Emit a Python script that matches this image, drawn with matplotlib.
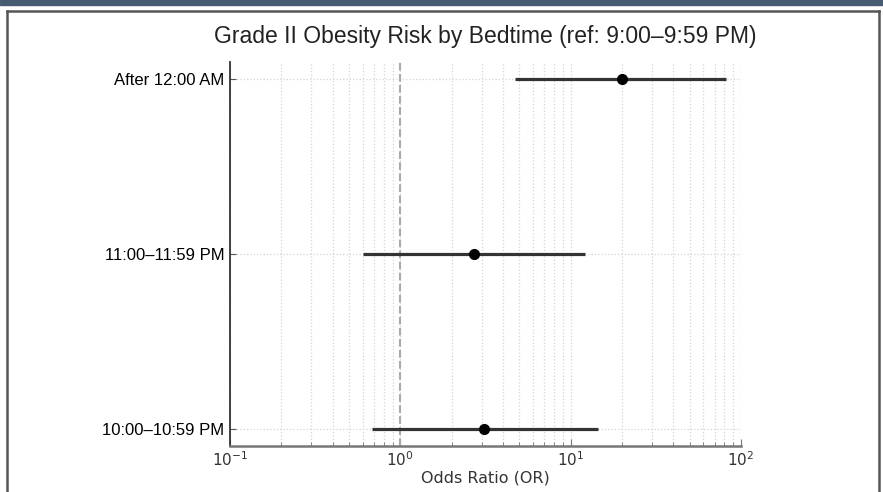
import matplotlib
matplotlib.use("Agg")
import matplotlib.pyplot as plt
from matplotlib.patches import Rectangle
from matplotlib.lines import Line2D
import numpy as np

categories = ["10:00–10:59 PM", "11:00–11:59 PM", "After 12:00 AM"]
odds_ratio = [3.1, 2.7, 20.0]
ci_lower = [0.68, 0.60, 4.7]
ci_upper = [14.4, 12.1, 82.0]

W, H = 883, 492
fig = plt.figure(figsize=(W / 100, H / 100), dpi=100)

# screenshot frame
fig.patches.append(Rectangle((0, 1 - 5 / H), 1, 5 / H, transform=fig.transFigure,
                             color="#475b73", zorder=0))
for xs, ys in [([7 / W, 7 / W], [0, 1 - 11 / H]),
               ([879 / W, 879 / W], [0, 1 - 11 / H]),
               ([7 / W, 879 / W], [1 - 11 / H, 1 - 11 / H])]:
    fig.lines.append(Line2D(xs, ys, transform=fig.transFigure, color="#555555", lw=1.8))

ax = fig.add_axes([230 / W, 1 - 446 / H, (741 - 230) / W, (446 - 62) / H])
y = np.arange(len(categories))
ax.set_xscale("log")
ax.set_xlim(0.1, 100)
ax.set_ylim(-0.1, 2.1)

ax.grid(True, which="both", axis="x", linestyle=":", color="#d4d4d4", lw=0.9)
ax.grid(True, which="major", axis="y", linestyle=":", color="#d4d4d4", lw=0.9)
ax.set_axisbelow(True)

ax.axvline(1, color="#aaaaaa", linestyle="--", lw=1.5, zorder=1)
ax.hlines(y, ci_lower, ci_upper, color="#333333", lw=2.3, zorder=2)
ax.plot(odds_ratio, y, "o", color="black", ms=7, zorder=3)

ax.set_yticks(y)
ax.set_yticklabels(categories, fontfamily="Liberation Sans", fontsize=12)
ax.tick_params(axis="y", direction="in", length=4, color="#555555", pad=4)
ax.tick_params(axis="x", which="both", direction="in", color="#777777", labelsize=11,
               labelcolor="#333333", pad=3)
ax.tick_params(axis="x", which="major", length=5)
ax.tick_params(axis="x", which="minor", length=3)

for s in ["top", "right"]:
    ax.spines[s].set_visible(False)
ax.spines["left"].set_color("#333333")
ax.spines["left"].set_linewidth(1.3)
ax.spines["bottom"].set_color("#777777")
ax.spines["bottom"].set_linewidth(1.8)

ax.set_xlabel("Odds Ratio (OR)", fontsize=11.5, color="#333333", labelpad=1)
ax.set_title("Grade II Obesity Risk by Bedtime (ref: 9:00–9:59 PM)",
             fontfamily="Liberation Sans", fontsize=16.5, pad=14, color="#222222")

fig.savefig("out.png", dpi=100)
